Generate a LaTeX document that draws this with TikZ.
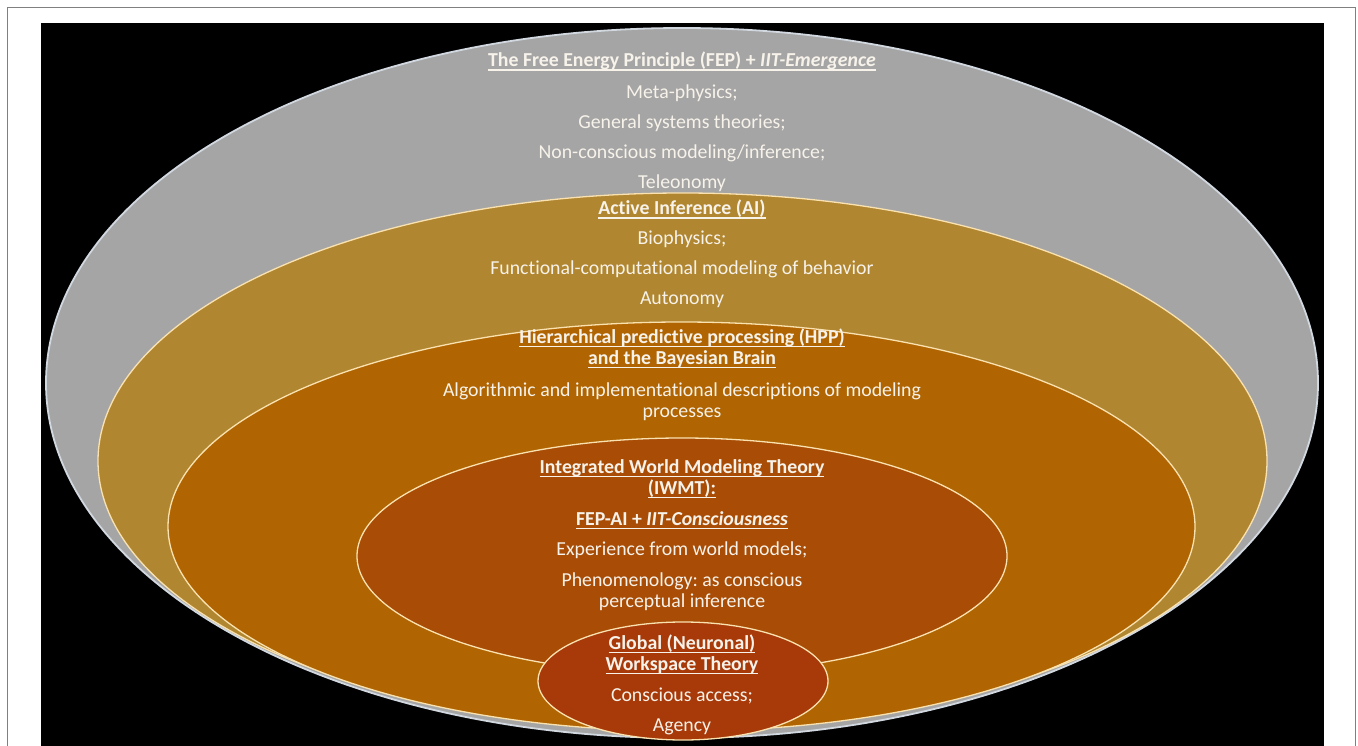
\documentclass[tikz,border=0pt]{standalone}
\usepackage{fontspec}
\setmainfont{Carlito}[Ligatures=NoCommon]
\usetikzlibrary{positioning}
\frenchspacing
\definecolor{frame}{RGB}{128,128,128}
\definecolor{fepfill}{RGB}{165,165,165}
\definecolor{fepline}{RGB}{210,216,224}
\definecolor{aifill}{RGB}{176,134,48}
\definecolor{hppfill}{RGB}{176,101,2}
\definecolor{iwmtfill}{RGB}{168,76,6}
\definecolor{gwtfill}{RGB}{168,58,10}
\definecolor{ringline}{RGB}{250,226,176}
\definecolor{txt}{RGB}{247,242,234}
\newcommand{\undl}[1]{\setbox0\hbox{#1}\rlap{\rule[-3.8pt]{\wd0}{1.3pt}}\box0}
\newcommand{\nl}{\kern0pt}
\begin{document}
\begin{tikzpicture}[x=1pt,y=-1pt,
	ring/.style={draw=ringline,line width=1.3pt},
	lbl/.style={text=txt,anchor=base,inner sep=0pt,font=\fontsize{19.8}{21}\selectfont},
	head/.style={lbl,font=\fontsize{19.8}{21}\selectfont\bfseries}]
	\useasboundingbox (0,0) rectangle (1358,746);
	\fill [white] (0,0) rectangle (1358,746);
	\draw [frame,line width=1pt] (7,746) -- (7,8) -- (1355,8) -- (1355,746);
	\fill [black] (41,23) rectangle (1324,746);
	\filldraw [fill=fepfill,draw=fepline,line width=1.8pt] (682,383) ellipse [x radius=636pt,y radius=355pt];
	\filldraw [ring,fill=aifill] (682.5,461) ellipse [x radius=584.5pt,y radius=268pt];
	\filldraw [ring,fill=hppfill] (681.5,526.5) ellipse [x radius=513.5pt,y radius=204.5pt];
	\filldraw [ring,fill=iwmtfill] (682,556) ellipse [x radius=325pt,y radius=118pt];
	\filldraw [ring,fill=gwtfill] (683,681) ellipse [x radius=145pt,y radius=59pt];
	\node [head] (fep) at (682,67) {\undl{The Free Energy Principle (FEP) + \textit{IIT-Emergence}}};
	\node [lbl] (fepa) at (682,99) {Meta-physics;};
	\node [lbl] (fepb) at (682,129) {General systems theories;};
	\node [lbl] (fepc) at (682,159) {Non-conscious modeling/inference;};
	\node [lbl] (fepd) at (682,189) {Teleonomy};
	\node [head] (ai) at (682,215) {\undl{Act\nl ive Inference (AI)}};
	\node [lbl] (aia) at (682,245) {Biophysics;};
	\node [lbl] (aib) at (682,275) {Funct\nl ional-computat\nl ional modeling of behavior};
	\node [lbl] (aic) at (682,305) {Autonomy};
	\node [head] (hpp) at (682,343) {\undl{Hierarchical predict\nl ive processing (HPP)}};
	\node [head] (hppb) at (682,364) {\undl{and the Bayesian Brain}};
	\node [lbl] (hppc) at (682,396) {Algorithmic and implementat\nl ional descript\nl ions of modeling};
	\node [lbl] (hppd) at (682,417) {processes};
	\node [head] (iwmt) at (682,473) {\undl{Integrated World Modeling Theory}};
	\node [head] (iwmtb) at (682,494) {\undl{(IWMT):}};
	\node [head] (iwmtc) at (682,525) {\undl{FEP-AI + \textit{IIT-Consciousness}}};
	\node [lbl] (iwmtd) at (682,555) {Experience from world models;};
	\node [lbl] (iwmte) at (682,586) {Phenomenology: as conscious};
	\node [lbl] (iwmtf) at (682,607) {perceptual inference};
	\node [head] (gwt) at (682,649) {\undl{Global (Neuronal)}};
	\node [head] (gwtb) at (682,670) {\undl{Workspace Theory}};
	\node [lbl] (gwtc) at (682,701) {Conscious access;};
	\node [lbl] (gwtd) at (682,731) {Agency};
\end{tikzpicture}
\end{document}
